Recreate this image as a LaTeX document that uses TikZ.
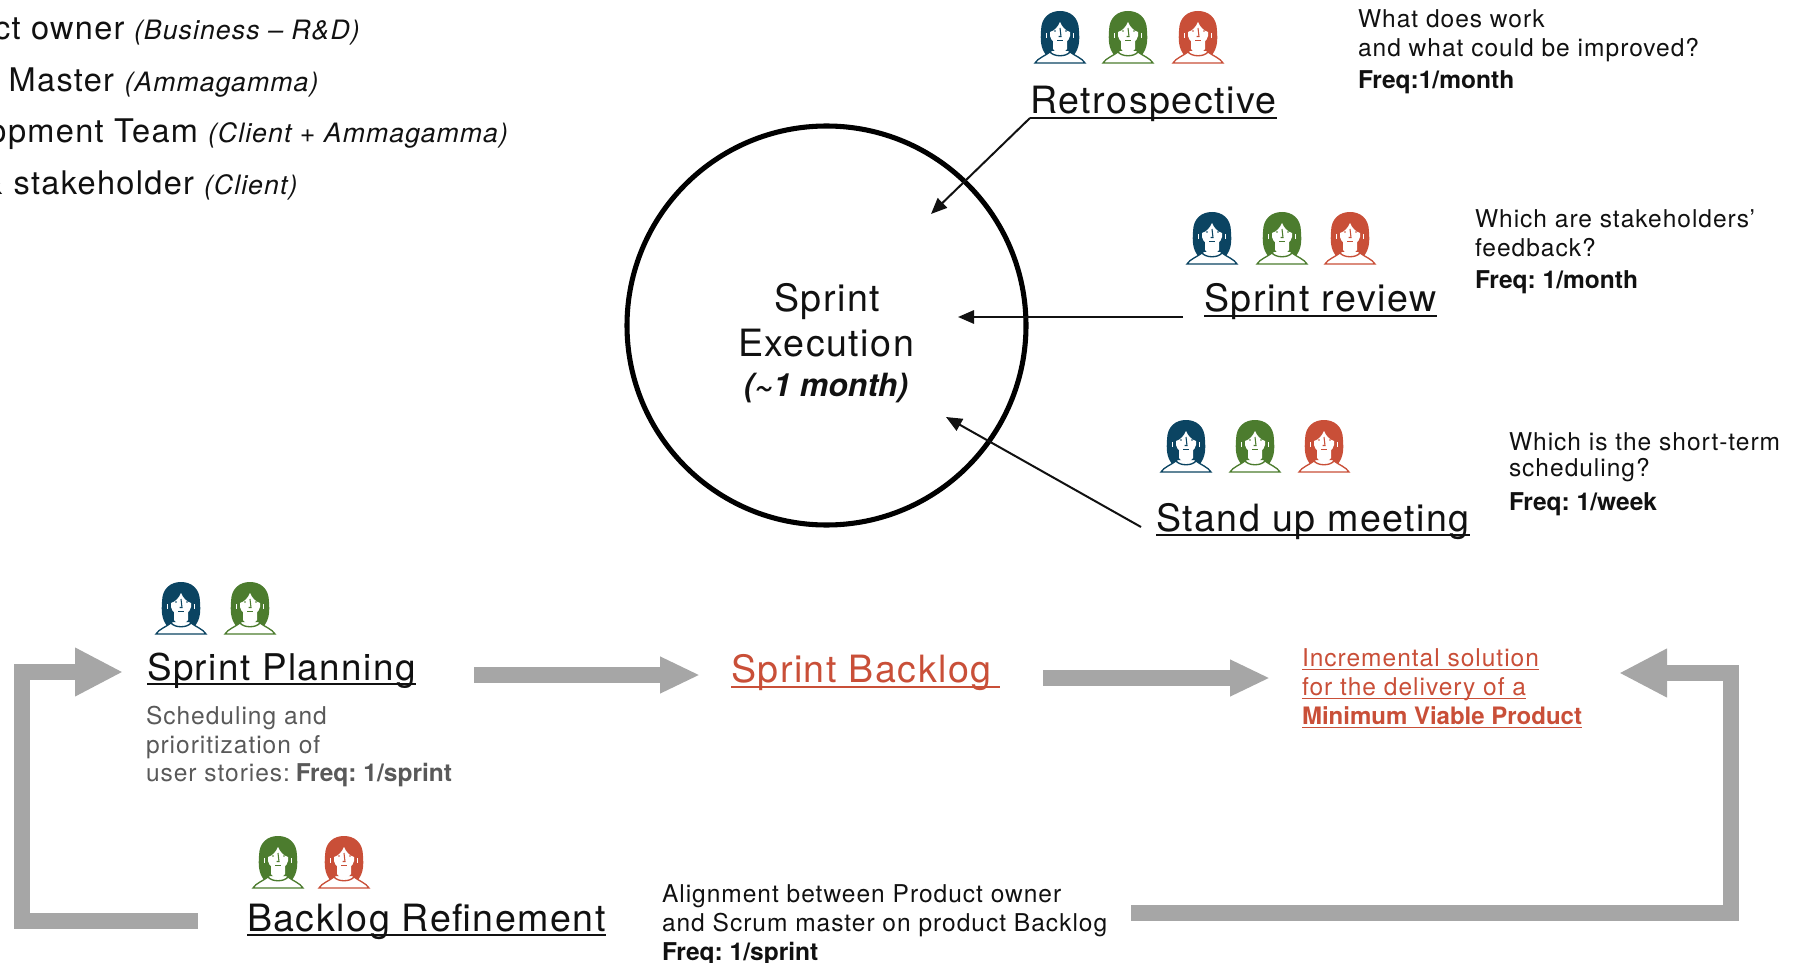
\documentclass[tikz,border=0pt]{standalone}
\usepackage{fontspec}
\setmainfont{TeX Gyre Heros}[LetterSpace=4,BoldFeatures={LetterSpace=0},BoldItalicFeatures={LetterSpace=0}]
\usetikzlibrary{arrows.meta}
\definecolor{pnavy}{HTML}{0B4462}
\definecolor{pgreen}{HTML}{4C7C2E}
\definecolor{pred}{HTML}{C94F38}
\definecolor{bargray}{HTML}{A6A6A6}
\definecolor{txtgray}{HTML}{595959}
\definecolor{ink}{HTML}{111111}
\newcommand{\fsHead}{\fontsize{28.2}{33}\selectfont}
\newcommand{\fsRole}{\fontsize{24.4}{29}\selectfont}
\newcommand{\fsOrg}{\fontsize{20}{24}\selectfont}
\newcommand{\fsBody}{\fontsize{18.4}{21.6}\selectfont}
\frenchspacing
\tikzset{
  every node/.style={inner sep=0pt,outer sep=0pt,text=ink},
  pics/person/.style={code={
    \path[fill=#1] (-14,44) .. controls (-20,36) and (-19.5,28) .. (-19,20) .. controls (-19,6) and (-10,0) .. (0,0) .. controls (10,0) and (19,6) .. (19,20) .. controls (19.5,28) and (20,36) .. (14,44) -- (8,40) -- (-8,40) -- cycle;
    \path[fill=white,draw=#1,line width=1pt] (-25,52) .. controls (-22,47) and (-15,45) .. (-10,41) .. controls (-6,46) and (6,46) .. (10,41) .. controls (15,45) and (22,47) .. (25,52) -- cycle;
    \fill[white] (-7,28) -- (7,28) -- (7,38) .. controls (5,43) and (-5,43) .. (-7,38) -- cycle;
    \fill[white] (-10,21) .. controls (-6,20) and (-2,16) .. (0,11) .. controls (2,16) and (6,20) .. (10,21) -- (10,25) .. controls (9,30) and (4,33.5) .. (0,33.5) .. controls (-4,33.5) and (-9,30) .. (-10,25) -- cycle;
    \draw[white,line width=.3pt] (-13.5,22) -- (-13.5,27) (13.5,22) -- (13.5,27);
    \draw[#1,line width=.8pt] (0,17) -- (1,25.5) -- (-1.5,25.5);
    \fill[#1] (-5,20) circle (.9) (6,20) circle (.9);
    \draw[#1,line width=.9pt] (-3,29.5) -- (3,29.5);
  }},
  head/.style={anchor=base west,font=\fsHead},
  body/.style={anchor=north west,align=left,font=\fsBody},
  ul/.style={line width=1.5pt,draw=ink},
  rul/.style={line width=1.2pt,draw=pred},
  thin arrow/.style={line width=1.5pt,draw=ink,-{Triangle[length=12pt,width=10pt]}},
  big arrow/.style={line width=12pt,draw=bargray,-{Triangle[length=36pt,width=34pt]},line join=miter},
  mid arrow/.style={line width=12.4pt,draw=bargray,-{Triangle[length=30pt,width=25.5pt]}}
}
\begin{document}
\begin{tikzpicture}[x=0.75pt,y=-0.75pt]
\useasboundingbox (0,0) rectangle (1793,963);
% roles
\node[anchor=base east,font=\fsRole] (r1) at (124.5,40) {ct owner};
\node[anchor=base west,font=\fsOrg\itshape] (o1) at (134,40) {(Business – R\&D)};
\node[anchor=base east,font=\fsRole] (r2) at (114,92) {Master};
\node[anchor=base west,font=\fsOrg\itshape] (o2) at (124.5,92) {(Ammagamma)};
\node[anchor=base east,font=\fsRole] (r3) at (198,143) {opment Team};
\node[anchor=base west,font=\fsOrg\itshape] (o3) at (208,143) {(Client + Ammagamma)};
\node[anchor=base east,font=\fsRole] (r4) at (194,195) {\& stakeholder};
\node[anchor=base west,font=\fsOrg\itshape] (o4) at (204,195) {(Client)};
% circle
\node[circle,draw=black,line width=3.8pt,minimum size=299.25pt,outer sep=0pt] (exec) at (826.5,325.5) {};
\node[anchor=base,font=\fsHead] (e1) at (827,311.5) {Sprint};
\node[anchor=base,font=\fsHead] (e2) at (826,356) {Execution};
\node[anchor=base,font=\fontsize{24}{28}\selectfont\bfseries\itshape] (e3) at (826,396) {(\textasciitilde1 month)};
% retrospective
\pic (p1) at (1060,11) {person=pnavy};
\pic (p2) at (1128,11) {person=pgreen};
\pic (p3) at (1198,11) {person=pred};
\node[head] (retro) at (1030.5,114) {Retrospective};
\draw[ul] (retro.base west)++(-0.5,4) -- ([yshift=-4*0.75pt]retro.base east) coordinate (retroR);
\coordinate (retroL) at (1030,118);
\coordinate (retroT) at (931,214);
\draw[thin arrow] (retroL) -- (retroT);
\node[body] (t1) at (1358,9.5) {What does work\\and what could be improved?\\[2.4pt]\textbf{Freq:1/month}};
% sprint review
\pic (p4) at (1212,212) {person=pnavy};
\pic (p5) at (1282,212) {person=pgreen};
\pic (p6) at (1350,212) {person=pred};
\node[head] (review) at (1204,311) {Sprint review};
\draw[ul] (review.base west)++(0,5) -- ([yshift=-5*0.75pt]review.base east);
\coordinate (revL) at (1183,317);
\coordinate (revT) at (958,317);
\draw[thin arrow] (revL) -- (revT);
\node[body] (t2) at (1475,209.5) {Which are stakeholders’\\feedback?\\[2.4pt]\textbf{Freq: 1/month}};
% stand up
\pic (p7) at (1186,420) {person=pnavy};
\pic (p8) at (1255,420) {person=pgreen};
\pic (p9) at (1324,420) {person=pred};
\node[head] (stand) at (1156,531) {Stand up meeting};
\draw[ul] (stand.base west)++(0,4) -- ([yshift=-4*0.75pt]stand.base east);
\coordinate (stL) at (1141,527);
\coordinate (stT) at (946,417);
\draw[thin arrow] (stL) -- (stT);
\node[body] (t3) at (1509,432.5) {Which is the short-term\\[-1.9pt]scheduling?\\[4pt]\textbf{Freq: 1/week}};
% planning
\pic (p10) at (181,582) {person=pnavy};
\pic (p11) at (250,582) {person=pgreen};
\node[head,font=\fontsize{27.6}{33}\selectfont] (plan) at (147,680) {Sprint Planning};
\draw[ul] (plan.base west)++(0,4) -- ([yshift=-4*0.75pt]plan.base east);
\node[body,text=txtgray] (t4) at (146,706) {Scheduling and\\prioritization of\\user stories:\kern-1.5pt{} \textbf{Freq: 1/sprint}};
% backlog
\node[head,text=pred] (back) at (731,682) {Sprint Backlog};
\coordinate (backR) at (1000,687);
\draw[rul] (back.base west)++(0,5) -- (backR);
% increment
\node[anchor=base west,font=\fsBody,text=pred] (i1) at (1302,666) {Incremental solution};
\node[anchor=base west,font=\fsBody,text=pred] (i2) at (1302,695) {for the delivery of a};
\node[anchor=base west,font=\fontsize{18}{21.6}\selectfont\bfseries,text=pred] (i3) at (1302,724) {Minimum Viable Product};
\draw[rul] (i1.base west)++(0,3.5) -- ([yshift=-3.5*0.75pt]i1.base east);
\draw[rul] (i2.base west)++(0,3.5) -- ([yshift=-3.5*0.75pt]i2.base east);
\draw[rul] (i3.base west)++(0,3.5) -- ([yshift=-3.5*0.75pt]i3.base east);
% refinement
\pic (p12) at (278,836) {person=pgreen};
\pic (p13) at (344,836) {person=pred};
\node[head] (refine) at (247,931) {Backlog Refinement};
\draw[ul] (refine.base west)++(0,4) -- ([yshift=-4*0.75pt]refine.base east);
\node[body] (t5) at (662,885) {Alignment between Product owner\\and Scrum master on product Backlog\\\textbf{Freq: 1/sprint}};
% big arrows
\coordinate (a1s) at (198,921);
\coordinate (a1a) at (22,921);
\coordinate (a1b) at (22,672);
\coordinate (a1e) at (123,672);
\draw[big arrow] (a1s) -- (a1a) -- (a1b) -- (a1e);
\coordinate (a2s) at (474,675);
\coordinate (a2e) at (700,675);
\draw[mid arrow] (a2s) -- (a2e);
\coordinate (a3s) at (1043,678);
\coordinate (a3e) at (1270,678);
\draw[mid arrow] (a3s) -- (a3e);
\coordinate (a4s) at (1131,913);
\coordinate (a4a) at (1731,913);
\coordinate (a4b) at (1731,673);
\coordinate (a4e) at (1619,673);
\draw[big arrow] (a4s) -- (a4a) -- (a4b) -- (a4e);
\end{tikzpicture}
\end{document}
